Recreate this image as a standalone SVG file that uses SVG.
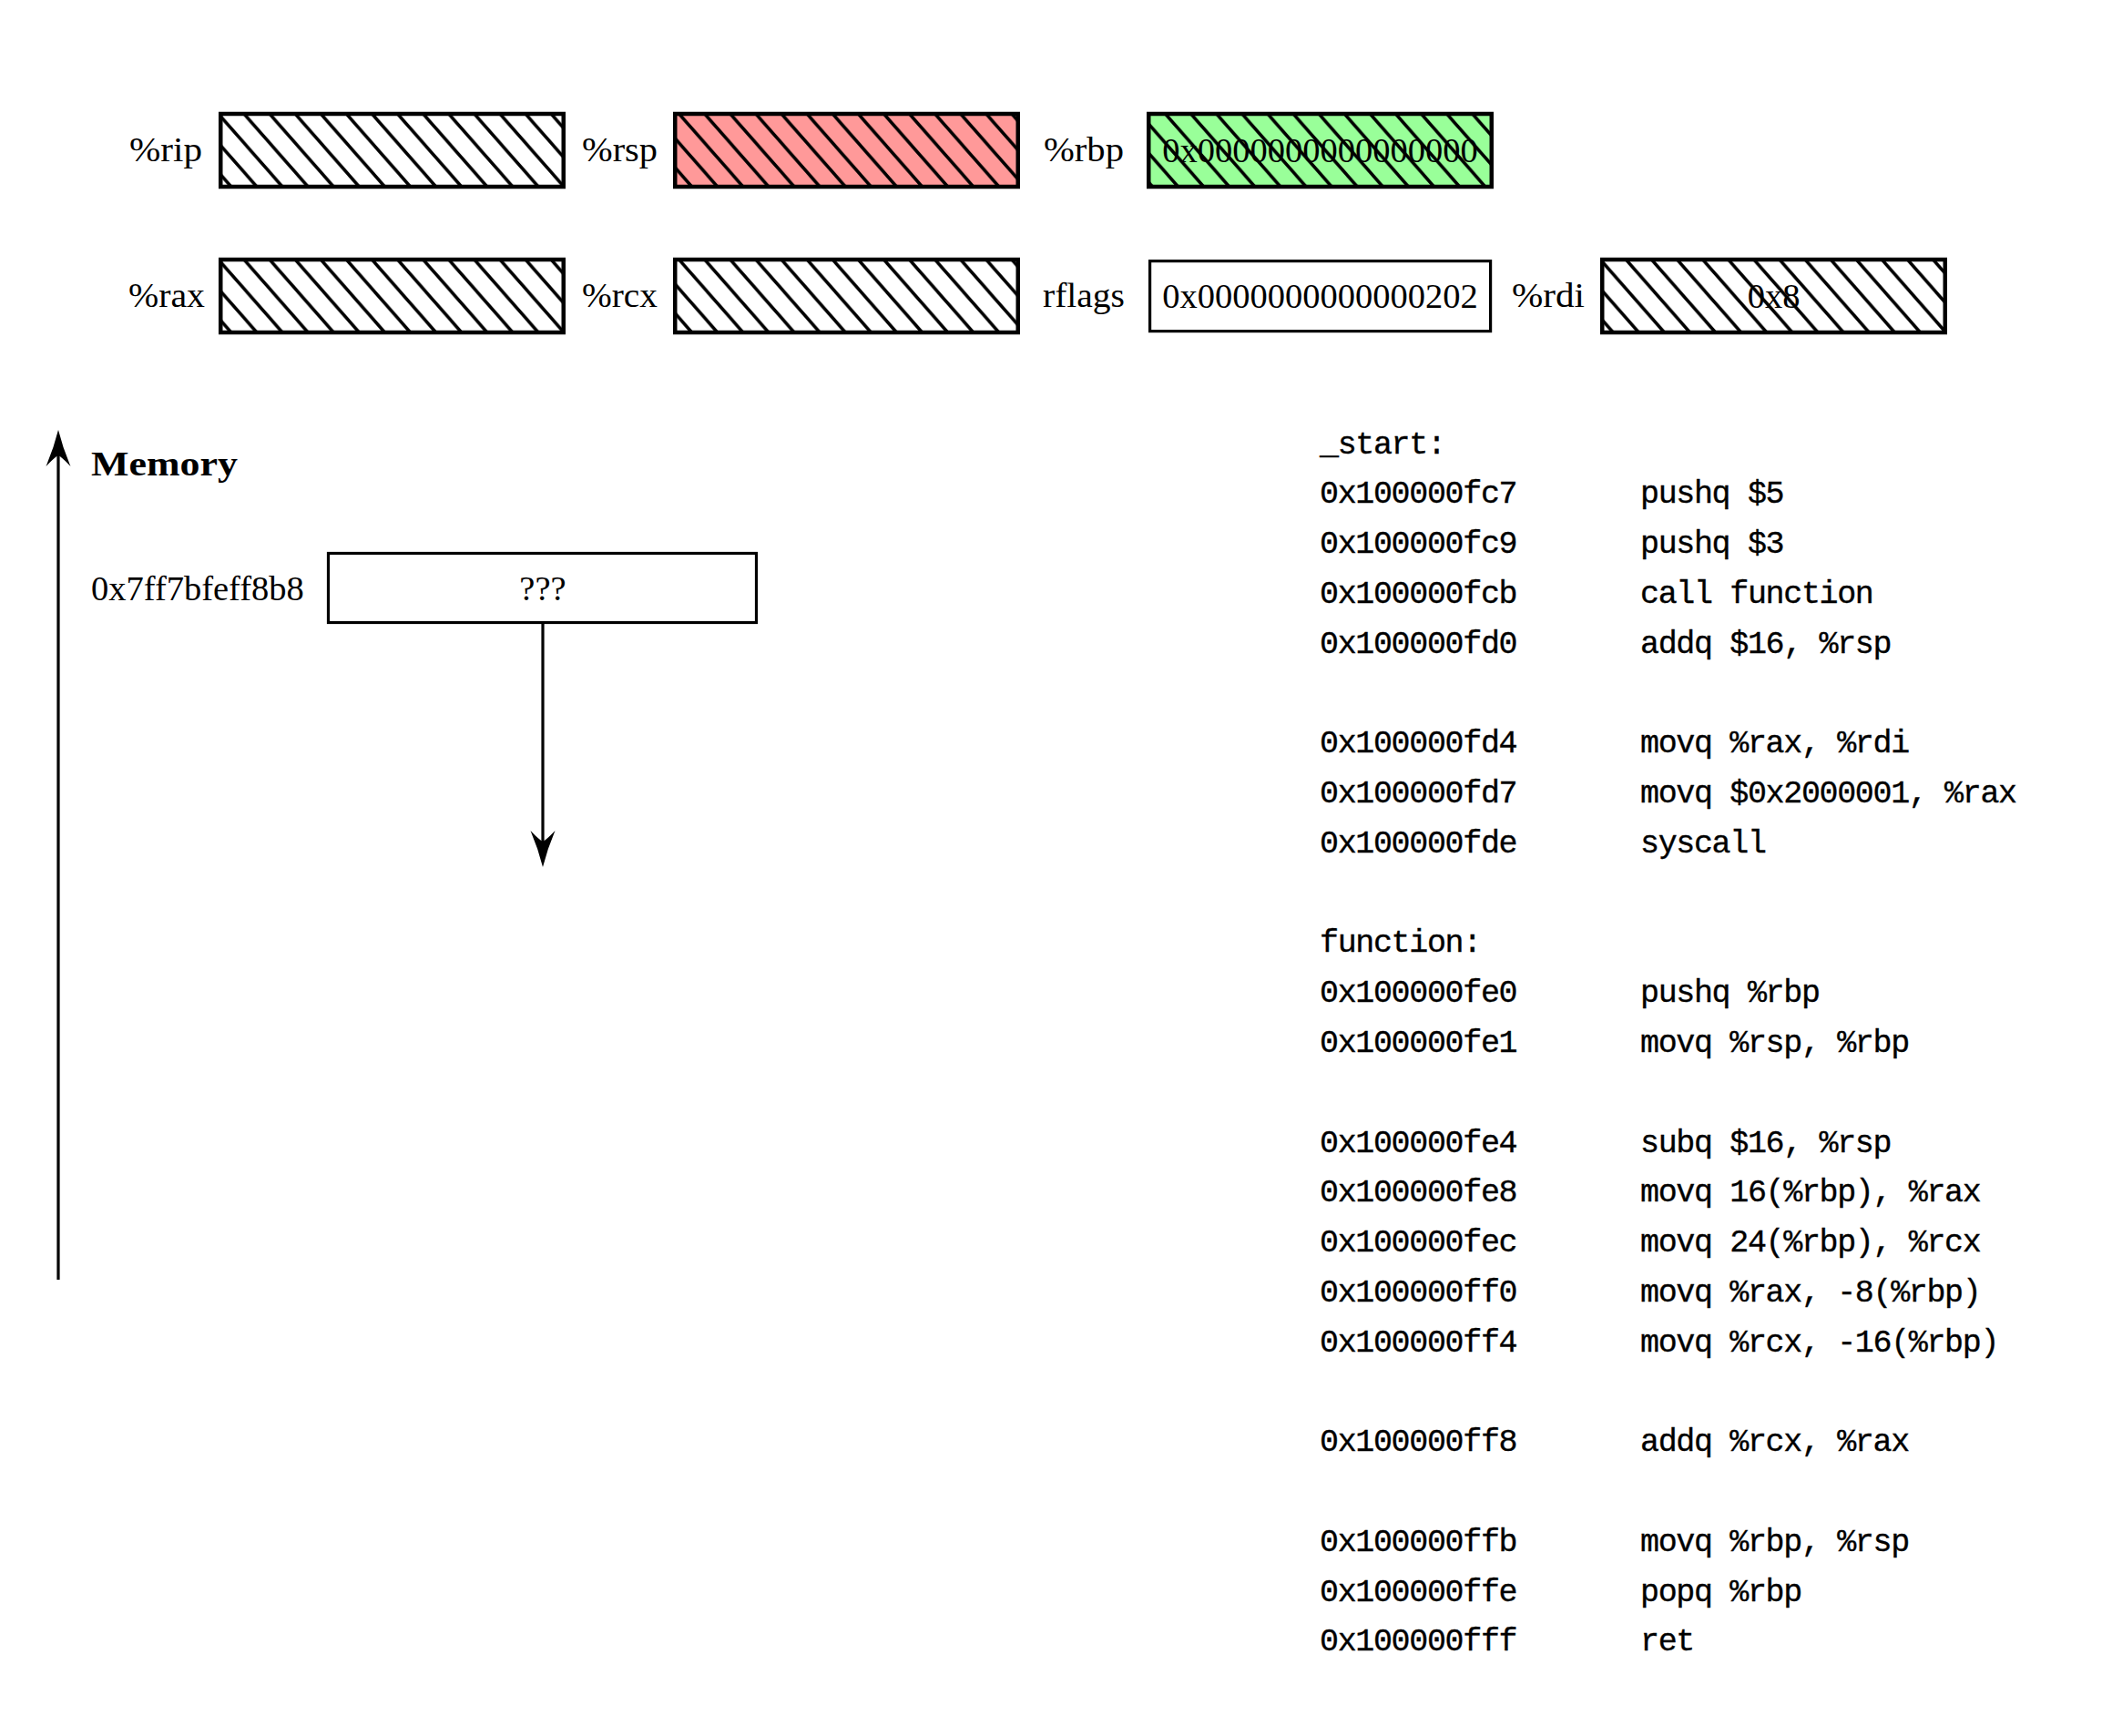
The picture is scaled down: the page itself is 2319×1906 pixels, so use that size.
<svg xmlns="http://www.w3.org/2000/svg" width="2319" height="1906" viewBox="0 0 2319 1906">
  <style>
    .lbl { font-family: "Liberation Serif", "DejaVu Serif", serif; font-size: 38.5px; fill: #000; }
    .bold { font-weight: bold; }
    .mid { text-anchor: middle; }
    .end { text-anchor: end; }
    .code { font-family: "Liberation Mono", "DejaVu Sans Mono", monospace; font-size: 35px; letter-spacing: -1.35px; fill: #000; stroke: #000; stroke-width: 0.35; }
    .reg { stroke: #000; stroke-width: 4.5; }
    .plain { fill: #fff; stroke: #000; stroke-width: 3.2; }
    .hatched { fill: url(#hatch); }
    .wire { fill: none; stroke: #000; stroke-width: 3.2; }
  </style>
  <defs>
    <!-- "north west" hatching shared by all register cells -->
    <pattern id="hatch" patternUnits="userSpaceOnUse" x="17.7" y="0" width="28.1" height="32">
      <path d="M-31.6,-4 L3.5,36 M-3.5,-4 L31.6,36 M24.6,-4 L59.7,36" stroke="#000" stroke-width="3.5" fill="none"/>
    </pattern>
    <marker id="head" markerUnits="userSpaceOnUse" orient="auto" refX="-28" refY="0" markerWidth="50" markerHeight="30" overflow="visible">
      <path d="M0,0 Q-20,-5 -40,-13.5 Q-30,-4 -28,0 Q-30,4 -40,13.5 Q-20,5 0,0 Z" fill="#000"/>
    </marker>
  </defs>
  <rect width="2319" height="1906" fill="#fff"/>

  <!-- register file, row 1 -->
  <g id="reg-rip">
    <text class="lbl end" x="222" y="177" textLength="80" lengthAdjust="spacingAndGlyphs">%rip</text>
    <rect x="242.25" y="125" width="376.5" height="80" fill="#fff"/>
    <rect class="reg hatched" x="242.25" y="125" width="376.5" height="80"/>
  </g>
  <g id="reg-rsp">
    <text class="lbl end" x="722" y="177" textLength="83" lengthAdjust="spacingAndGlyphs">%rsp</text>
    <rect x="741.25" y="125" width="376.5" height="80" fill="#ff9999"/>
    <rect class="reg hatched" x="741.25" y="125" width="376.5" height="80"/>
  </g>
  <g id="reg-rbp">
    <text class="lbl end" x="1234" y="177" textLength="88" lengthAdjust="spacingAndGlyphs">%rbp</text>
    <rect x="1261.25" y="125" width="376.5" height="80" fill="#99ff99"/>
    <rect class="reg hatched" x="1261.25" y="125" width="376.5" height="80"/>
    <text class="lbl mid" x="1449.5" y="178">0x0000000000000000</text>
  </g>

  <!-- register file, row 2 -->
  <g id="reg-rax">
    <text class="lbl end" x="225" y="337" textLength="84" lengthAdjust="spacingAndGlyphs">%rax</text>
    <rect x="242.25" y="285" width="376.5" height="80" fill="#fff"/>
    <rect class="reg hatched" x="242.25" y="285" width="376.5" height="80"/>
  </g>
  <g id="reg-rcx">
    <text class="lbl end" x="722" y="337" textLength="83" lengthAdjust="spacingAndGlyphs">%rcx</text>
    <rect x="741.25" y="285" width="376.5" height="80" fill="#fff"/>
    <rect class="reg hatched" x="741.25" y="285" width="376.5" height="80"/>
  </g>
  <g id="reg-rflags">
    <text class="lbl end" x="1235" y="337" textLength="90" lengthAdjust="spacingAndGlyphs">rflags</text>
    <rect class="plain" x="1262.6" y="286.6" width="374" height="77"/>
    <text class="lbl mid" x="1449.5" y="338">0x0000000000000202</text>
  </g>
  <g id="reg-rdi">
    <text class="lbl end" x="1740" y="337" textLength="80" lengthAdjust="spacingAndGlyphs">%rdi</text>
    <rect x="1759.25" y="285" width="376.5" height="80" fill="#fff"/>
    <rect class="reg hatched" x="1759.25" y="285" width="376.5" height="80"/>
    <text class="lbl mid" x="1947.5" y="338">0x8</text>
  </g>

  <!-- memory / stack -->
  <g id="memory-title">
    <text class="lbl bold" x="100" y="522" textLength="161" lengthAdjust="spacingAndGlyphs">Memory</text>
  </g>
  <g id="mem-cell">
    <text class="lbl" x="100" y="659">0x7ff7bfeff8b8</text>
    <rect class="plain" x="360.5" y="607.5" width="470" height="76"/>
    <text class="lbl mid" x="596" y="659">???</text>
  </g>

  <!-- connectors -->
  <g id="connectors">
    <path class="wire" d="M64,1405 L64,500" marker-end="url(#head)"/>
    <path class="wire" d="M596,684 L596,924" marker-end="url(#head)"/>
  </g>

  <!-- program listing -->
  <g id="listing" class="code">
    <text x="1449" y="497.6">_start:</text>
    <text x="1449" y="552.4">0x100000fc7</text><text x="1801" y="552.4">pushq $5</text>
    <text x="1449" y="607.2">0x100000fc9</text><text x="1801" y="607.2">pushq $3</text>
    <text x="1449" y="661.9">0x100000fcb</text><text x="1801" y="661.9">call function</text>
    <text x="1449" y="716.7">0x100000fd0</text><text x="1801" y="716.7">addq $16, %rsp</text>
    <text x="1449" y="826.3">0x100000fd4</text><text x="1801" y="826.3">movq %rax, %rdi</text>
    <text x="1449" y="881.1">0x100000fd7</text><text x="1801" y="881.1">movq $0x2000001, %rax</text>
    <text x="1449" y="935.8">0x100000fde</text><text x="1801" y="935.8">syscall</text>
    <text x="1449" y="1045.4">function:</text>
    <text x="1449" y="1100.2">0x100000fe0</text><text x="1801" y="1100.2">pushq %rbp</text>
    <text x="1449" y="1154.9">0x100000fe1</text><text x="1801" y="1154.9">movq %rsp, %rbp</text>
    <text x="1449" y="1264.5">0x100000fe4</text><text x="1801" y="1264.5">subq $16, %rsp</text>
    <text x="1449" y="1319.3">0x100000fe8</text><text x="1801" y="1319.3">movq 16(%rbp), %rax</text>
    <text x="1449" y="1374.1">0x100000fec</text><text x="1801" y="1374.1">movq 24(%rbp), %rcx</text>
    <text x="1449" y="1428.8">0x100000ff0</text><text x="1801" y="1428.8">movq %rax, -8(%rbp)</text>
    <text x="1449" y="1483.6">0x100000ff4</text><text x="1801" y="1483.6">movq %rcx, -16(%rbp)</text>
    <text x="1449" y="1593.2">0x100000ff8</text><text x="1801" y="1593.2">addq %rcx, %rax</text>
    <text x="1449" y="1702.7">0x100000ffb</text><text x="1801" y="1702.7">movq %rbp, %rsp</text>
    <text x="1449" y="1757.5">0x100000ffe</text><text x="1801" y="1757.5">popq %rbp</text>
    <text x="1449" y="1812.3">0x100000fff</text><text x="1801" y="1812.3">ret</text>
  </g>
</svg>
